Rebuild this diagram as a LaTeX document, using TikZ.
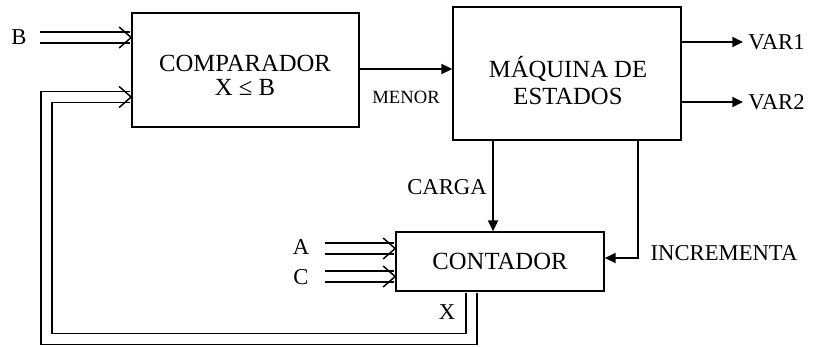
\documentclass[tikz,border=0pt]{standalone}
\usepackage{fontspec}
\setmainfont{Liberation Serif}
\usetikzlibrary{arrows.meta,calc}

\tikzset{
    bloque/.style 2 args={draw, line width=1.3pt, inner sep=0pt,
        minimum width=#1*0.75pt, minimum height=#2*0.75pt},
    dobles/.style={line width=1.1pt, double, double distance=7.2pt},
    chev/.pic={\draw[line width=1.1pt] (-12,-10.5) -- (0,0) -- (-12,10.5);},
    peque/.style={font=\fontsize{14}{14}\selectfont},
    grande/.style={align=center, font=\fontsize{18.5}{#1}\selectfont},
}

\begin{document}
\begin{tikzpicture}[x=0.75pt, y=-0.75pt, >={Triangle[length=8pt,width=7.5pt]},
    line width=1.3pt, font=\fontsize{17}{19}\selectfont]
    \useasboundingbox (0,0) rectangle (816,346);

    % bloques
    \node[bloque={227}{114}] (cmp) at (245.5,70) {};
    \node[bloque={228}{133}] (maq) at (567,73.5) {};
    \node[bloque={208}{59}] (cnt) at (500,261.5) {};
    \node[grande=18pt] (cmptxt) at (245,75) {COMPARADOR\\X ≤ B};
    \node[grande=20.5pt] (maqtxt) at (568,80.5) {MÁQUINA DE\\ESTADOS};
    \node[grande=19pt] (cnttxt) at (cnt.center) {CONTADOR};

    % entradas B, A, C
    \node (b) at (19,37) {B};
    \node (a) at (301,247) {A};
    \node (c) at (301,277) {C};
    \coordinate (bini) at (40,37.5);
    \coordinate (aini) at (325,248.5);
    \coordinate (cini) at (325,276.5);
    \draw[dobles, shorten >=0.7pt] (bini) -- (cmp.west |- bini);
    \pic at (cmp.west |- bini) {chev};
    \draw[dobles, shorten >=0.7pt] (aini) -- (cnt.west |- aini);
    \pic at (cnt.west |- aini) {chev};
    \draw[dobles, shorten >=0.7pt] (cini) -- (cnt.west |- cini);
    \pic at (cnt.west |- cini) {chev};

    % realimentacion X
    \coordinate (xbaja) at (471.5,339);
    \coordinate (xsube) at (46.5,97);
    \draw[dobles, shorten <=0.7pt, shorten >=0.7pt] (cnt.south -| xbaja) -- (xbaja) -| (xsube) -- (cmp.west |- xsube);
    \pic at (cmp.west |- xsube) {chev};
    \node (x) at (447,312) {X};

    % MENOR
    \coordinate (men) at (0,69);
    \draw[->] (cmp.east |- men) -- (maq.west |- men);
    \node[peque] (menor) at (406,97) {MENOR};

    % salidas
    \coordinate (v1) at (743,42);
    \coordinate (v2) at (743,102);
    \draw[->] (maq.east |- v1) -- (v1);
    \draw[->] (maq.east |- v2) -- (v2);
    \node[right] (var1) at (v1) {VAR1};
    \node[right] (var2) at (v2) {VAR2};

    % CARGA e INCREMENTA
    \coordinate (cg) at (493,0);
    \coordinate (inc) at (638,258);
    \draw[->] (maq.south -| cg) -- (cnt.north -| cg);
    \node (carga) at (447,187) {CARGA};
    \draw[->] (maq.south -| inc) |- (cnt.east |- inc);
    \node (incr) at (724,253) {INCREMENTA};
\end{tikzpicture}
\end{document}
